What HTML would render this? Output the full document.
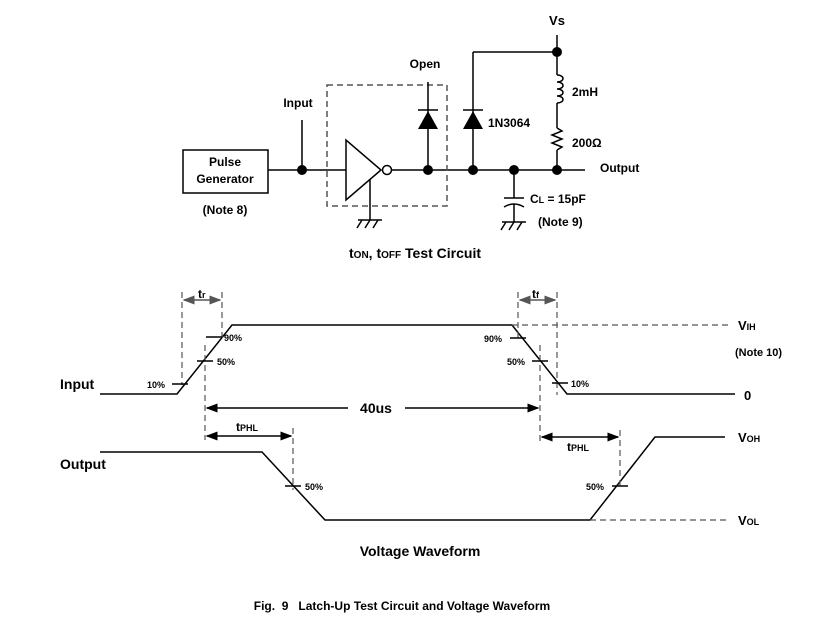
<!DOCTYPE html>
<html><head><style>
body{margin:0;background:#fff;}
svg{display:block;font-family:"Liberation Sans",Arial,sans-serif;font-weight:bold;}
</style></head><body>
<svg width="814" height="620" viewBox="0 0 814 620">
<defs>
<marker id="a" markerWidth="8" markerHeight="8" refX="7" refY="4" orient="auto-start-reverse"><path d="M0,1 L8,4 L0,7Z" fill="#000"/></marker>
<marker id="g" markerWidth="8" markerHeight="8" refX="7" refY="4" orient="auto-start-reverse"><path d="M0,1 L8,4 L0,7Z" fill="#555"/></marker>
</defs>
<g stroke="#000" stroke-width="1.5" fill="none">
<rect x="183" y="150" width="85" height="43"/>
<line x1="268" y1="170" x2="346" y2="170"/>
<line x1="391" y1="170" x2="585" y2="170" />
<line x1="302" y1="170" x2="302" y2="120"/>
<rect x="327" y="85" width="120" height="121" stroke="#555" stroke-dasharray="6,4"/>
<path d="M346,140 L346,200 L381,170Z"/>
<circle cx="387" cy="170" r="4.5"/>
<line x1="370" y1="180" x2="370" y2="220"/>
<line x1="358" y1="220" x2="382" y2="220"/>
<path d="M362,220 l-5,8 M370,220 l-5,8 M378,220 l-5,8"/>
<line x1="428" y1="170" x2="428" y2="82"/>
<line x1="418" y1="110" x2="438" y2="110"/>
<line x1="473" y1="170" x2="473" y2="52"/><line x1="473" y1="52" x2="557" y2="52"/>
<line x1="463" y1="110" x2="483" y2="110"/>
<line x1="557" y1="35" x2="557" y2="75"/>
<path d="M557,75 c8,0 8,7 0,7 c8,0 8,7 0,7 c8,0 8,7 0,7 c8,0 8,7 0,7"/>
<line x1="557" y1="103" x2="557" y2="128"/>
<path d="M557,128 l5,3 l-10,4 l10,4 l-10,4 l10,4 l-5,3"/>
<line x1="557" y1="150" x2="557" y2="170"/>
<line x1="514" y1="170" x2="514" y2="198"/>
<line x1="504" y1="198" x2="524" y2="198"/>
<path d="M504,207 q10,-6 20,0"/>
<line x1="514" y1="204" x2="514" y2="222"/>
<line x1="502" y1="222" x2="526" y2="222"/>
<path d="M506,222 l-5,8 M514,222 l-5,8 M522,222 l-5,8"/>
</g>
<g fill="#000">
<path d="M418,129 L438,129 L428,111Z"/><path d="M463,129 L483,129 L473,111Z"/>
<circle cx="302" cy="170" r="5"/><circle cx="428" cy="170" r="5"/><circle cx="473" cy="170" r="5"/>
<circle cx="514" cy="170" r="5"/><circle cx="557" cy="170" r="5"/><circle cx="557" cy="52" r="5"/>
</g>
<g font-size="12" fill="#000">
<text x="557" y="25" text-anchor="middle" font-size="13">Vs</text>
<text x="425" y="68" text-anchor="middle">Open</text>
<text x="298" y="107" text-anchor="middle">Input</text>
<text x="225" y="166" text-anchor="middle">Pulse</text>
<text x="225" y="183" text-anchor="middle">Generator</text>
<text x="225" y="214" text-anchor="middle">(Note 8)</text>
<text x="488" y="127">1N3064</text>
<text x="572" y="96">2mH</text>
<text x="572" y="147">200Ω</text>
<text x="600" y="172">Output</text>
<text x="530" y="203">C<tspan font-size="9">L</tspan> = 15pF</text>
<text x="538" y="226">(Note 9)</text>
<text x="415" y="258" text-anchor="middle" font-size="14">t<tspan font-size="10">ON</tspan>, t<tspan font-size="10">OFF</tspan> Test Circuit</text>
</g>
<g stroke="#000" stroke-width="1.5" fill="none">
<polyline points="100,394 177,394 232,325 512,325 567,394 735,394"/>
<polyline points="100,452 262,452 325,520 590,520 655,437 725,437"/>
</g>
<g stroke="#555" stroke-width="1.2" fill="none" stroke-dasharray="6,4">
<line x1="512" y1="325" x2="728" y2="325"/>
<line x1="590" y1="520" x2="728" y2="520"/>
<line x1="182" y1="292" x2="182" y2="385"/>
<line x1="222" y1="292" x2="222" y2="340"/>
<line x1="205" y1="345" x2="205" y2="440"/>
<line x1="518" y1="292" x2="518" y2="340"/>
<line x1="557" y1="292" x2="557" y2="395"/>
<line x1="540" y1="345" x2="540" y2="445"/>
<line x1="293" y1="428" x2="293" y2="490"/>
<line x1="620" y1="430" x2="620" y2="490"/>
</g>
<g stroke="#555" stroke-width="1.5">
<line x1="184" y1="300" x2="220" y2="300" marker-start="url(#g)" marker-end="url(#g)"/>
<line x1="520" y1="300" x2="555" y2="300" marker-start="url(#g)" marker-end="url(#g)"/>
</g>
<g stroke="#000" stroke-width="1.5">
<line x1="207" y1="408" x2="348" y2="408" marker-start="url(#a)"/>
<line x1="405" y1="408" x2="538" y2="408" marker-end="url(#a)"/>
<line x1="207" y1="436" x2="291" y2="436" marker-start="url(#a)" marker-end="url(#a)"/>
<line x1="542" y1="437" x2="618" y2="437" marker-start="url(#a)" marker-end="url(#a)"/>
<line x1="206" y1="337" x2="222" y2="337"/><line x1="197" y1="361" x2="213" y2="361"/><line x1="172" y1="384" x2="188" y2="384"/>
<line x1="510" y1="338" x2="526" y2="338"/><line x1="532" y1="361" x2="548" y2="361"/><line x1="552" y1="383" x2="568" y2="383"/>
<line x1="285" y1="486" x2="301" y2="486"/><line x1="612" y1="486" x2="628" y2="486"/>
</g>
<g fill="#000" font-size="9">
<text x="224" y="341">90%</text><text x="217" y="365">50%</text><text x="147" y="388">10%</text>
<text x="484" y="342">90%</text><text x="507" y="365">50%</text><text x="571" y="387">10%</text>
<text x="305" y="490">50%</text><text x="586" y="490">50%</text>
</g>
<g fill="#000" font-size="13">
<text x="198" y="298" font-size="12">t<tspan font-size="9">r</tspan></text>
<text x="532" y="298" font-size="12">t<tspan font-size="9">f</tspan></text>
<text x="60" y="389" font-size="14">Input</text>
<text x="60" y="469" font-size="14">Output</text>
<text x="376" y="413" text-anchor="middle" font-size="14">40us</text>
<text x="236" y="431" font-size="12">t<tspan font-size="9">PHL</tspan></text>
<text x="567" y="451" font-size="12">t<tspan font-size="9">PHL</tspan></text>
<text x="738" y="330">V<tspan font-size="9">IH</tspan></text>
<text x="735" y="356" font-size="11">(Note 10)</text>
<text x="744" y="400">0</text>
<text x="738" y="442">V<tspan font-size="9">OH</tspan></text>
<text x="738" y="525">V<tspan font-size="9">OL</tspan></text>
<text x="420" y="556" text-anchor="middle" font-size="14">Voltage Waveform</text>
<text x="402" y="610" text-anchor="middle" font-size="12">Fig.&#160; 9 &#160; Latch-Up Test Circuit and Voltage Waveform</text>
</g>
</svg>
</body></html>
